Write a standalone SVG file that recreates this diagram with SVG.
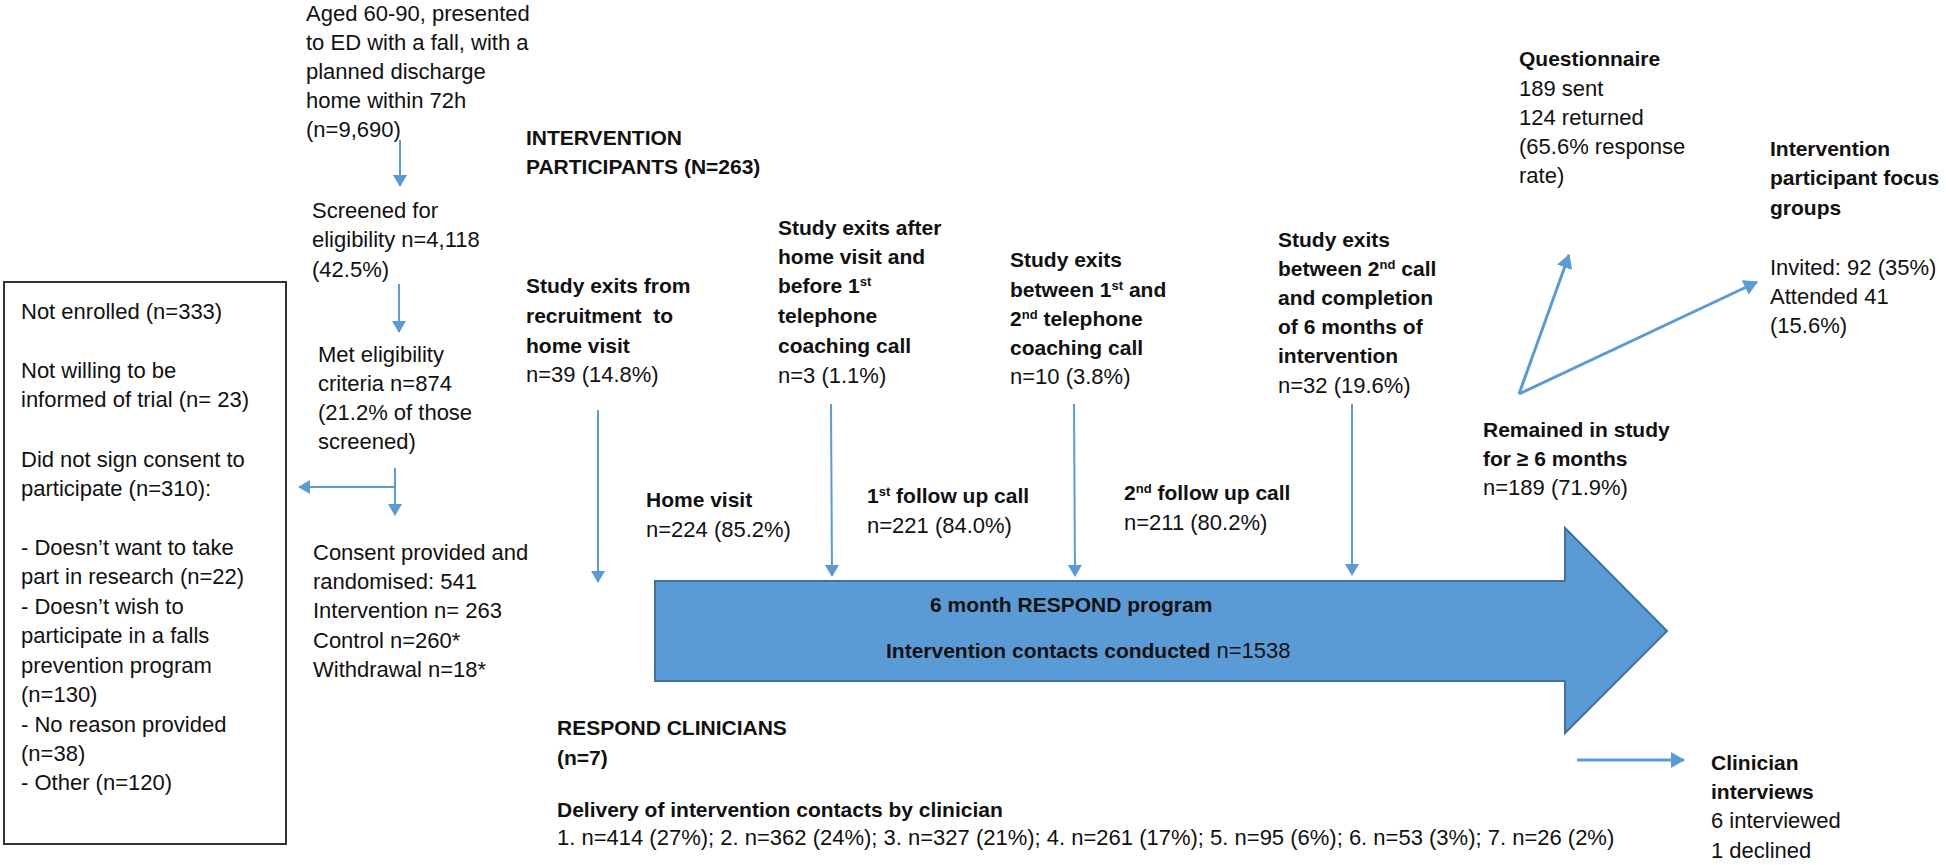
<svg xmlns="http://www.w3.org/2000/svg" width="1946" height="865" viewBox="0 0 1946 865">
<defs>
<style>
text{font-family:"Liberation Sans",Arial,sans-serif;font-size:22px;fill:#111}
.b{font-weight:bold;font-size:21px}
.sup{font-size:13px}
.ln{fill:none;stroke:#5B9BD5;stroke-width:2}
.ln3{fill:none;stroke:#5B9BD5;stroke-width:3}
</style>
<marker id="ah" viewBox="0 0 12 14" refX="11" refY="7" markerWidth="12" markerHeight="14" markerUnits="userSpaceOnUse" orient="auto">
<path d="M0,0 L12,7 L0,14 Z" fill="#5B9BD5"/>
</marker>
<marker id="ah3" viewBox="0 0 14 16" refX="13" refY="8" markerWidth="14" markerHeight="16" markerUnits="userSpaceOnUse" orient="auto">
<path d="M0,0 L14,8 L0,16 Z" fill="#5B9BD5"/>
</marker>
</defs>
<rect width="1946" height="865" fill="#fff"/>

<g id="connectors">
<path class="ln" d="M400,140 L400,186" marker-end="url(#ah)"/>
<path class="ln" d="M399,284 L399,332" marker-end="url(#ah)"/>
<path class="ln" d="M395,468 L395,515" marker-end="url(#ah)"/>
<path class="ln" d="M395,487 L299,487" marker-end="url(#ah)"/>
<path class="ln" d="M598,410 L598,582" marker-end="url(#ah)"/>
<path class="ln" d="M831,404 L832,576" marker-end="url(#ah)"/>
<path class="ln" d="M1074,404 L1075,576" marker-end="url(#ah)"/>
<path class="ln" d="M1352,404 L1352,575" marker-end="url(#ah)"/>
<path class="ln3" d="M1519,394 L1569,255" marker-end="url(#ah3)"/>
<path class="ln3" d="M1519,394 L1757,282" marker-end="url(#ah3)"/>
<path class="ln3" d="M1577,760 L1684,760" marker-end="url(#ah3)"/>
</g>

<g id="program">
<polygon points="655,581 1565,581 1565,528 1667,631 1565,733 1565,681 655,681" fill="#5B9BD5" stroke="#41719C" stroke-width="2"/>
<text class="b" x="930" y="612">6 month RESPOND program</text>
<text x="886" y="658"><tspan class="b">Intervention contacts conducted</tspan> n=1538</text>
</g>

<g id="aged">
<text x="306" y="21">Aged 60-90, presented</text>
<text x="306" y="50">to ED with a fall, with a</text>
<text x="306" y="79">planned discharge</text>
<text x="306" y="108">home within 72h</text>
<text x="306" y="137">(n=9,690)</text>
</g>

<g id="screened">
<text x="312" y="218">Screened for</text>
<text x="312" y="247">eligibility n=4,118</text>
<text x="312" y="277">(42.5%)</text>
</g>

<g id="eligible">
<text x="318" y="362">Met eligibility</text>
<text x="318" y="391">criteria n=874</text>
<text x="318" y="420">(21.2% of those</text>
<text x="318" y="449">screened)</text>
</g>

<g id="consent">
<text x="313" y="560">Consent provided and</text>
<text x="313" y="589">randomised: 541</text>
<text x="313" y="618">Intervention n= 263</text>
<text x="313" y="648">Control n=260*</text>
<text x="313" y="677">Withdrawal n=18*</text>
</g>

<g id="not-enrolled">
<rect x="4" y="282" width="282" height="562" fill="none" stroke="#333" stroke-width="2"/>
<text x="21" y="319">Not enrolled (n=333)</text>
<text x="21" y="378">Not willing to be</text>
<text x="21" y="407">informed of trial (n= 23)</text>
<text x="21" y="467">Did not sign consent to</text>
<text x="21" y="496">participate (n=310):</text>
<text x="21" y="555">- Doesn’t want to take</text>
<text x="21" y="584">part in research (n=22)</text>
<text x="21" y="614">- Doesn’t wish to</text>
<text x="21" y="643">participate in a falls</text>
<text x="21" y="673">prevention program</text>
<text x="21" y="702">(n=130)</text>
<text x="21" y="732">- No reason provided</text>
<text x="21" y="761">(n=38)</text>
<text x="21" y="790">- Other (n=120)</text>
</g>

<g id="intervention-participants">
<text class="b" x="526" y="145">INTERVENTION</text>
<text class="b" x="526" y="174">PARTICIPANTS (N=263)</text>
</g>

<g id="exits1">
<text class="b" x="526" y="293">Study exits from</text>
<text class="b" x="526" y="323" style="white-space:pre">recruitment  to</text>
<text class="b" x="526" y="353">home visit</text>
<text x="526" y="382">n=39 (14.8%)</text>
</g>

<g id="exits2">
<text class="b" x="778" y="235">Study exits after</text>
<text class="b" x="778" y="264">home visit and</text>
<text class="b" x="778" y="293">before 1<tspan class="sup" baseline-shift="super">st</tspan></text>
<text class="b" x="778" y="323">telephone</text>
<text class="b" x="778" y="353">coaching call</text>
<text x="778" y="383">n=3 (1.1%)</text>
</g>

<g id="exits3">
<text class="b" x="1010" y="267">Study exits</text>
<text class="b" x="1010" y="297">between 1<tspan class="sup" baseline-shift="super">st</tspan> and</text>
<text class="b" x="1010" y="326">2<tspan class="sup" baseline-shift="super">nd</tspan> telephone</text>
<text class="b" x="1010" y="355">coaching call</text>
<text x="1010" y="384">n=10 (3.8%)</text>
</g>

<g id="exits4">
<text class="b" x="1278" y="247">Study exits</text>
<text class="b" x="1278" y="276">between 2<tspan class="sup" baseline-shift="super">nd</tspan> call</text>
<text class="b" x="1278" y="305">and completion</text>
<text class="b" x="1278" y="334">of 6 months of</text>
<text class="b" x="1278" y="363">intervention</text>
<text x="1278" y="393">n=32 (19.6%)</text>
</g>

<g id="home-visit">
<text class="b" x="646" y="507">Home visit</text>
<text x="646" y="537">n=224 (85.2%)</text>
</g>

<g id="call1">
<text class="b" x="867" y="503">1<tspan class="sup" baseline-shift="super">st</tspan> follow up call</text>
<text x="867" y="533">n=221 (84.0%)</text>
</g>

<g id="call2">
<text class="b" x="1124" y="500">2<tspan class="sup" baseline-shift="super">nd</tspan> follow up call</text>
<text x="1124" y="530">n=211 (80.2%)</text>
</g>

<g id="remained">
<text class="b" x="1483" y="437">Remained in study</text>
<text class="b" x="1483" y="466">for ≥ 6 months</text>
<text x="1483" y="495">n=189 (71.9%)</text>
</g>

<g id="questionnaire">
<text class="b" x="1519" y="66">Questionnaire</text>
<text x="1519" y="96">189 sent</text>
<text x="1519" y="125">124 returned</text>
<text x="1519" y="154">(65.6% response</text>
<text x="1519" y="183">rate)</text>
</g>

<g id="focus-groups">
<text class="b" x="1770" y="156">Intervention</text>
<text class="b" x="1770" y="185">participant focus</text>
<text class="b" x="1770" y="215">groups</text>
<text x="1770" y="275">Invited: 92 (35%)</text>
<text x="1770" y="304">Attended 41</text>
<text x="1770" y="333">(15.6%)</text>
</g>

<g id="clinicians">
<text class="b" x="557" y="735">RESPOND CLINICIANS</text>
<text class="b" x="557" y="765">(n=7)</text>
<text class="b" x="557" y="817">Delivery of intervention contacts by clinician</text>
<text x="557" y="845">1. n=414 (27%); 2. n=362 (24%); 3. n=327 (21%); 4. n=261 (17%); 5. n=95 (6%); 6. n=53 (3%); 7. n=26 (2%)</text>
</g>

<g id="clinician-interviews">
<text class="b" x="1711" y="770">Clinician</text>
<text class="b" x="1711" y="799">interviews</text>
<text x="1711" y="828">6 interviewed</text>
<text x="1711" y="858">1 declined</text>
</g>
</svg>
